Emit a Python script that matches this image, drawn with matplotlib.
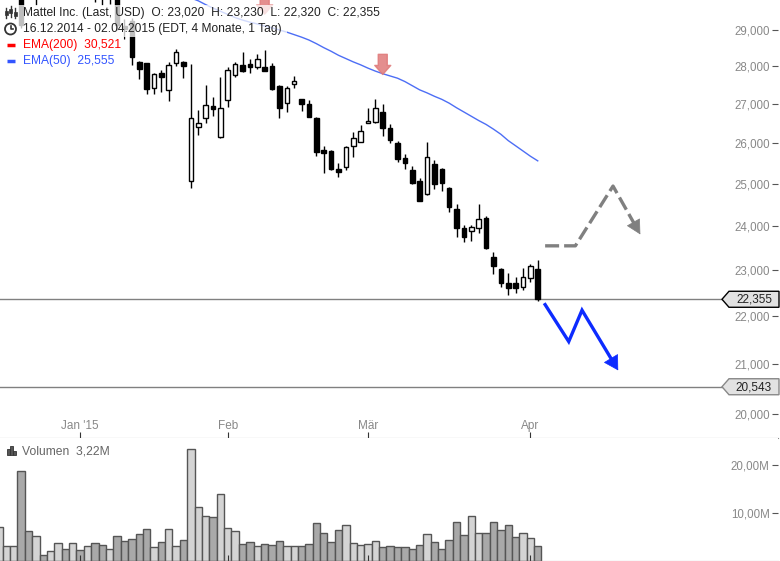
import numpy as np
import matplotlib.pyplot as plt
from matplotlib.patches import Polygon, Rectangle, Circle

plt.rcParams['font.family'] = ['Liberation Sans', 'DejaVu Sans']

# Tageskerzen 16.12.2014 - 02.04.2015 (Index = Handelstag)
opens = [30.30, 30.50, 30.70, 30.80, 30.20, 29.90, 30.40, 30.10, 30.50, 30.80,
         30.40, 30.70, 30.30, 30.50, 30.10, 29.95, 30.20, 29.12, 29.25, 28.12,
         28.09, 27.42, 27.82, 27.37, 28.09, 28.12, 25.07, 26.41, 26.64, 26.95,
         26.16, 27.11, 27.77, 28.04, 28.06, 27.98, 27.98, 28.01, 27.48, 27.03,
         27.53, 27.13, 27.00, 26.64, 25.83, 25.81, 25.36, 25.41, 25.93, 26.03,
         26.51, 26.54, 26.79, 26.38, 26.00, 25.63, 25.34, 25.05, 24.76, 25.48,
         25.36, 24.90, 24.40, 23.94, 23.89, 23.96, 24.19, 23.28, 23.01, 22.70,
         22.72, 22.63, 22.81, 23.02]
highs = [30.70, 30.90, 31.00, 30.90, 30.50, 30.40, 30.60, 30.60, 30.90, 30.90,
         30.80, 30.80, 30.60, 30.60, 30.30, 30.40, 30.30, 29.30, 29.35, 28.15,
         28.10, 27.82, 27.90, 28.12, 28.47, 28.15, 28.06, 26.85, 27.50, 27.19,
         27.71, 27.98, 28.12, 28.39, 28.20, 28.34, 28.45, 28.09, 27.49, 27.48,
         27.74, 27.14, 27.11, 26.65, 25.93, 25.82, 25.51, 25.93, 26.28, 26.46,
         26.90, 27.13, 27.00, 26.49, 26.06, 25.73, 25.43, 25.14, 26.03, 25.58,
         25.37, 24.91, 24.52, 24.01, 24.03, 24.50, 24.24, 23.39, 23.03, 22.94,
         22.85, 23.05, 23.14, 23.23]
lows = [30.10, 30.30, 30.40, 29.05, 29.95, 29.70, 30.00, 30.00, 30.30, 30.30,
        30.20, 30.20, 30.10, 29.80, 29.72, 29.75, 29.00, 28.75, 28.04, 27.66,
        27.26, 27.26, 27.32, 27.08, 28.01, 27.69, 24.90, 26.21, 26.51, 26.69,
        26.13, 26.92, 27.71, 27.85, 27.82, 27.93, 27.87, 27.37, 26.64, 26.79,
        27.42, 26.82, 26.66, 25.68, 25.26, 25.34, 25.17, 25.34, 25.66, 26.02,
        26.50, 26.51, 26.18, 26.00, 25.53, 25.36, 25.00, 24.58, 24.73, 24.88,
        24.81, 24.33, 23.75, 23.62, 23.66, 23.84, 23.47, 22.90, 22.63, 22.44,
        22.50, 22.55, 22.74, 22.32]
closes = [30.60, 30.80, 30.90, 29.15, 30.05, 30.30, 30.10, 30.50, 30.80, 30.40,
          30.70, 30.30, 30.50, 29.92, 29.95, 30.20, 29.15, 29.02, 28.25, 27.93,
          27.40, 27.80, 27.71, 28.04, 28.39, 28.01, 26.64, 26.51, 26.98, 26.87,
          26.90, 27.90, 28.06, 27.88, 27.98, 28.20, 27.88, 27.40, 26.90, 27.42,
          27.61, 27.00, 26.67, 25.78, 25.76, 25.36, 25.29, 25.91, 26.13, 26.31,
          26.56, 26.90, 26.38, 26.08, 25.61, 25.51, 25.02, 24.59, 25.66, 25.00,
          25.02, 24.43, 23.96, 23.75, 23.98, 24.17, 23.48, 23.08, 22.72, 22.59,
          22.61, 22.85, 23.08, 22.355]
# Volumen in Mio. Stueck
volumes = [7.0, 3.06, 3.06, 18.7, 6.2, 5.1, 1.2, 2.0, 3.7, 2.4,
           3.7, 2.2, 3.06, 3.7, 3.3, 2.4, 5.1, 4.1, 4.5, 5.6,
           6.6, 2.85, 3.9, 6.6, 3.06, 4.3, 23.3, 11.2, 9.3, 9.1,
           13.9, 6.8, 6.2, 3.5, 3.9, 3.06, 3.5, 3.3, 4.1, 3.06,
           3.06, 3.06, 3.5, 7.85, 5.8, 3.9, 6.4, 7.4, 3.7, 3.3,
           3.5, 4.1, 2.85, 3.06, 2.85, 2.85, 2.6, 3.3, 5.6, 3.9,
           2.4, 4.3, 8.1, 5.35, 9.3, 5.8, 5.8, 8.1, 6.4, 7.4,
           4.9, 5.8, 4.7, 3.22]
# EMA(50) ab Index 25 (davor oberhalb des Bildausschnitts)
ema50_start = 25
ema50 = [29.97, 29.91, 29.83, 29.72, 29.62, 29.53, 29.44, 29.35, 29.28, 29.22,
         29.17, 29.11, 29.06, 29.00, 28.94, 28.87, 28.80, 28.72, 28.62, 28.51,
         28.41, 28.30, 28.21, 28.12, 28.04, 27.95, 27.87, 27.80, 27.74, 27.68,
         27.59, 27.48, 27.37, 27.29, 27.20, 27.12, 27.02, 26.90, 26.79, 26.68,
         26.57, 26.47, 26.35, 26.22, 26.06, 25.93, 25.80, 25.67, 25.555]

month_pos = [11, 31, 50, 72]
month_labels = ["Jan '15", 'Feb', 'Mär', 'Apr']
price_ticks = [20, 21, 22, 23, 24, 25, 26, 27, 28, 29]
vol_ticks = [10, 20]

last_close = 22.355
target_level = 20.543
signal_pos = [36, 52]
signal_price = [29.45, 27.78]

# Szenarien
up_path_x = [74.0, 78.1, 83.2, 86.9]
up_path_y = [23.54, 23.54, 24.94, 23.80]
down_path_x = [74.0, 77.2, 79.0, 83.9]
down_path_y = [22.24, 21.46, 22.12, 20.87]

W, H = 780, 561
fig = plt.figure(figsize=(W / 100, H / 100), dpi=100)
ax = fig.add_axes([0, 1 - 438 / H, 778 / W, 438 / H])
axv = fig.add_axes([0, 0, 778 / W, 123 / H])

idx = np.arange(len(closes))
o = np.array(opens)
c = np.array(closes)
up = c >= o
xlim = (1 / 7.38, 779 / 7.38)

# Kerzen
ax.vlines(idx, lows, highs, color='black', lw=1, zorder=2)
body_h = np.maximum(np.abs(c - o), 0.03)
ax.bar(idx, body_h, bottom=np.minimum(o, c), width=0.62,
       color=np.where(up, 'white', 'black'), edgecolor='black', linewidth=1, zorder=3)

ax.plot(idx[ema50_start:], ema50, color='#4d6ef5', lw=1, zorder=1.5)

ax.set_yscale('log')
ax.set_xlim(xlim)
ax.set_ylim(19.55, 29.853)

ax.axhline(last_close, xmin=0, xmax=722 / 778, color='#808080', lw=1, zorder=1)
ax.axhline(target_level, xmin=0, xmax=722 / 778, color='#808080', lw=1, zorder=1)

for i, p in zip(signal_pos, signal_price):
    ax.annotate('', xy=(i, p), xytext=(0, 14.5), textcoords='offset points',
                arrowprops=dict(arrowstyle='simple,head_length=0.65,head_width=1.15,tail_width=0.65',
                                mutation_scale=10, color='#e07a7a', alpha=0.85,
                                shrinkA=0, shrinkB=0), zorder=4)


def head_start(xs, ys, f):
    x = xs[-1] - f * (xs[-1] - xs[-2])
    y = np.exp(np.log(ys[-1]) - f * (np.log(ys[-1]) - np.log(ys[-2])))
    return x, y


hx, hy = head_start(up_path_x, up_path_y, 0.24)
ax.plot(up_path_x[:-1] + [hx], up_path_y[:-1] + [hy], color='#808080', lw=2.4,
        dashes=(4.2, 1.5), zorder=4)
ax.annotate('', xy=(up_path_x[-1], up_path_y[-1]), xytext=(hx, hy),
            arrowprops=dict(arrowstyle='-|>,head_length=0.95,head_width=0.5', mutation_scale=10,
                            color='#808080', lw=0.5, shrinkA=0, shrinkB=0), zorder=4)

hx, hy = head_start(down_path_x, down_path_y, 0.18)
ax.plot(down_path_x[:-1] + [hx], down_path_y[:-1] + [hy], color='#0d2bff', lw=2.4,
        solid_joinstyle='miter', zorder=4)
ax.annotate('', xy=(down_path_x[-1], down_path_y[-1]), xytext=(hx, hy),
            arrowprops=dict(arrowstyle='-|>,head_length=0.95,head_width=0.55', mutation_scale=10,
                            color='#0d2bff', lw=0.5, shrinkA=0, shrinkB=0), zorder=4)

for s in ['top', 'left', 'right']:
    ax.spines[s].set_visible(False)
ax.spines['bottom'].set_color('#888888')
ax.set_xticks(month_pos)
ax.set_xticklabels(month_labels)
ax.tick_params(axis='x', direction='in', length=4, color='#333333', labelcolor='#888888',
               labelsize=8.5, pad=-13.3)
ax.yaxis.set_minor_locator(plt.NullLocator())
ax.set_yticks(price_ticks)
ax.set_yticklabels(['{:.3f}'.format(v).replace('.', ',') for v in price_ticks])
ax.tick_params(axis='y', which='both', left=False, labelleft=False, right=True, labelright=True,
               direction='in', length=4, color='#555555', labelcolor='#888888', labelsize=8.3, pad=-6)
for t in ax.yaxis.get_major_ticks():
    t.label2.set_horizontalalignment('right')

# Volumen
axv.bar(idx, volumes, width=1.0, color=np.where(up, '#d4d4d4', '#a9a9a9'),
        edgecolor='#555555', linewidth=1)
axv.set_xlim(xlim)
axv.set_ylim(0, 25.6)
for s in ['top', 'left', 'right']:
    axv.spines[s].set_visible(False)
axv.spines['bottom'].set_color('#888888')
axv.set_xticks(month_pos)
axv.tick_params(axis='x', direction='in', length=4, color='#333333', labelbottom=False)
axv.set_yticks(vol_ticks)
axv.set_yticklabels(['{:.2f}M'.format(v).replace('.', ',') for v in vol_ticks])
axv.tick_params(axis='y', left=False, labelleft=False, right=True, labelright=True,
                direction='in', length=4, color='#555555', labelcolor='#888888', labelsize=8.3, pad=-6)
for t in axv.yaxis.get_major_ticks():
    t.label2.set_horizontalalignment('right')

# Overlay in Pixelkoordinaten: Legende, Icons, Kursmarken
ov = fig.add_axes([0, 0, 1, 1], zorder=10)
ov.set_xlim(0, W)
ov.set_ylim(H, 0)
ov.axis('off')
ov.patch.set_alpha(0)


def ypix(price):
    return H - ax.transData.transform((1, price))[1]


# halbtransparenter Hintergrund der Legendenzeilen
for y0, x1 in [(5, 382), (21, 287), (37, 124), (53, 116)]:
    ov.add_patch(Rectangle((0, y0), x1, 16, facecolor='white', alpha=0.75, edgecolor='none'))

ov.text(23, 13, 'Mattel Inc. (Last, USD)  O: 23,020  H: 23,230  L: 22,320  C: 22,355',
        fontsize=8.64, color='#222222', va='center')
ov.text(23, 29, '16.12.2014 - 02.04.2015 (EDT, 4 Monate, 1 Tag)',
        fontsize=8.64, color='#222222', va='center')
ov.text(23, 45, 'EMA(200)  30,521', fontsize=8.64, color='#ff0000', va='center')
ov.text(23, 61, 'EMA(50)  25,555', fontsize=8.64, color='#3355ff', va='center')
ov.plot([7, 15], [45, 45], color='#ff0000', lw=2.5, solid_capstyle='butt')
ov.plot([7, 15], [61, 61], color='#3355ff', lw=2.5, solid_capstyle='butt')

# Kerzen-Icon
for cx, w0, w1, b0, b1 in [(6, 8, 18, 11, 15), (10.5, 6, 17, 9, 13), (15, 8, 18, 12, 16)]:
    ov.plot([cx, cx], [w0, w1], color='#333333', lw=1)
    ov.add_patch(Rectangle((cx - 1.5, b0), 3, b1 - b0, facecolor='#333333', edgecolor='#333333', lw=0.5))
# Uhr-Icon
ov.add_patch(Circle((10.5, 29), 5.5, fill=False, edgecolor='#333333', lw=1.3))
ov.plot([10.5, 10.5, 13], [25.5, 29, 29], color='#333333', lw=1.2)

ov.text(22, 451, 'Volumen  3,22M', fontsize=8.7, color='#666666', va='center')
for x0, y0, h in [(7, 449, 6), (10, 446, 9), (13, 451, 4)]:
    ov.add_patch(Rectangle((x0, y0), 3, h, facecolor='#555555', edgecolor='#333333', lw=0.6))

for p, ec, label in [(last_close, '#000000', '22,355'), (target_level, '#888888', '20,543')]:
    y = ypix(p)
    ov.add_patch(Polygon([(722, y), (729, y - 8), (779, y - 8), (779, y + 8), (729, y + 8)],
                         closed=True, facecolor='#e2e2e2', edgecolor=ec, lw=1))
    ov.text(754, y + 0.5, label, fontsize=8.5, color='#222222', ha='center', va='center')

fig.savefig('out.png', dpi=100)
